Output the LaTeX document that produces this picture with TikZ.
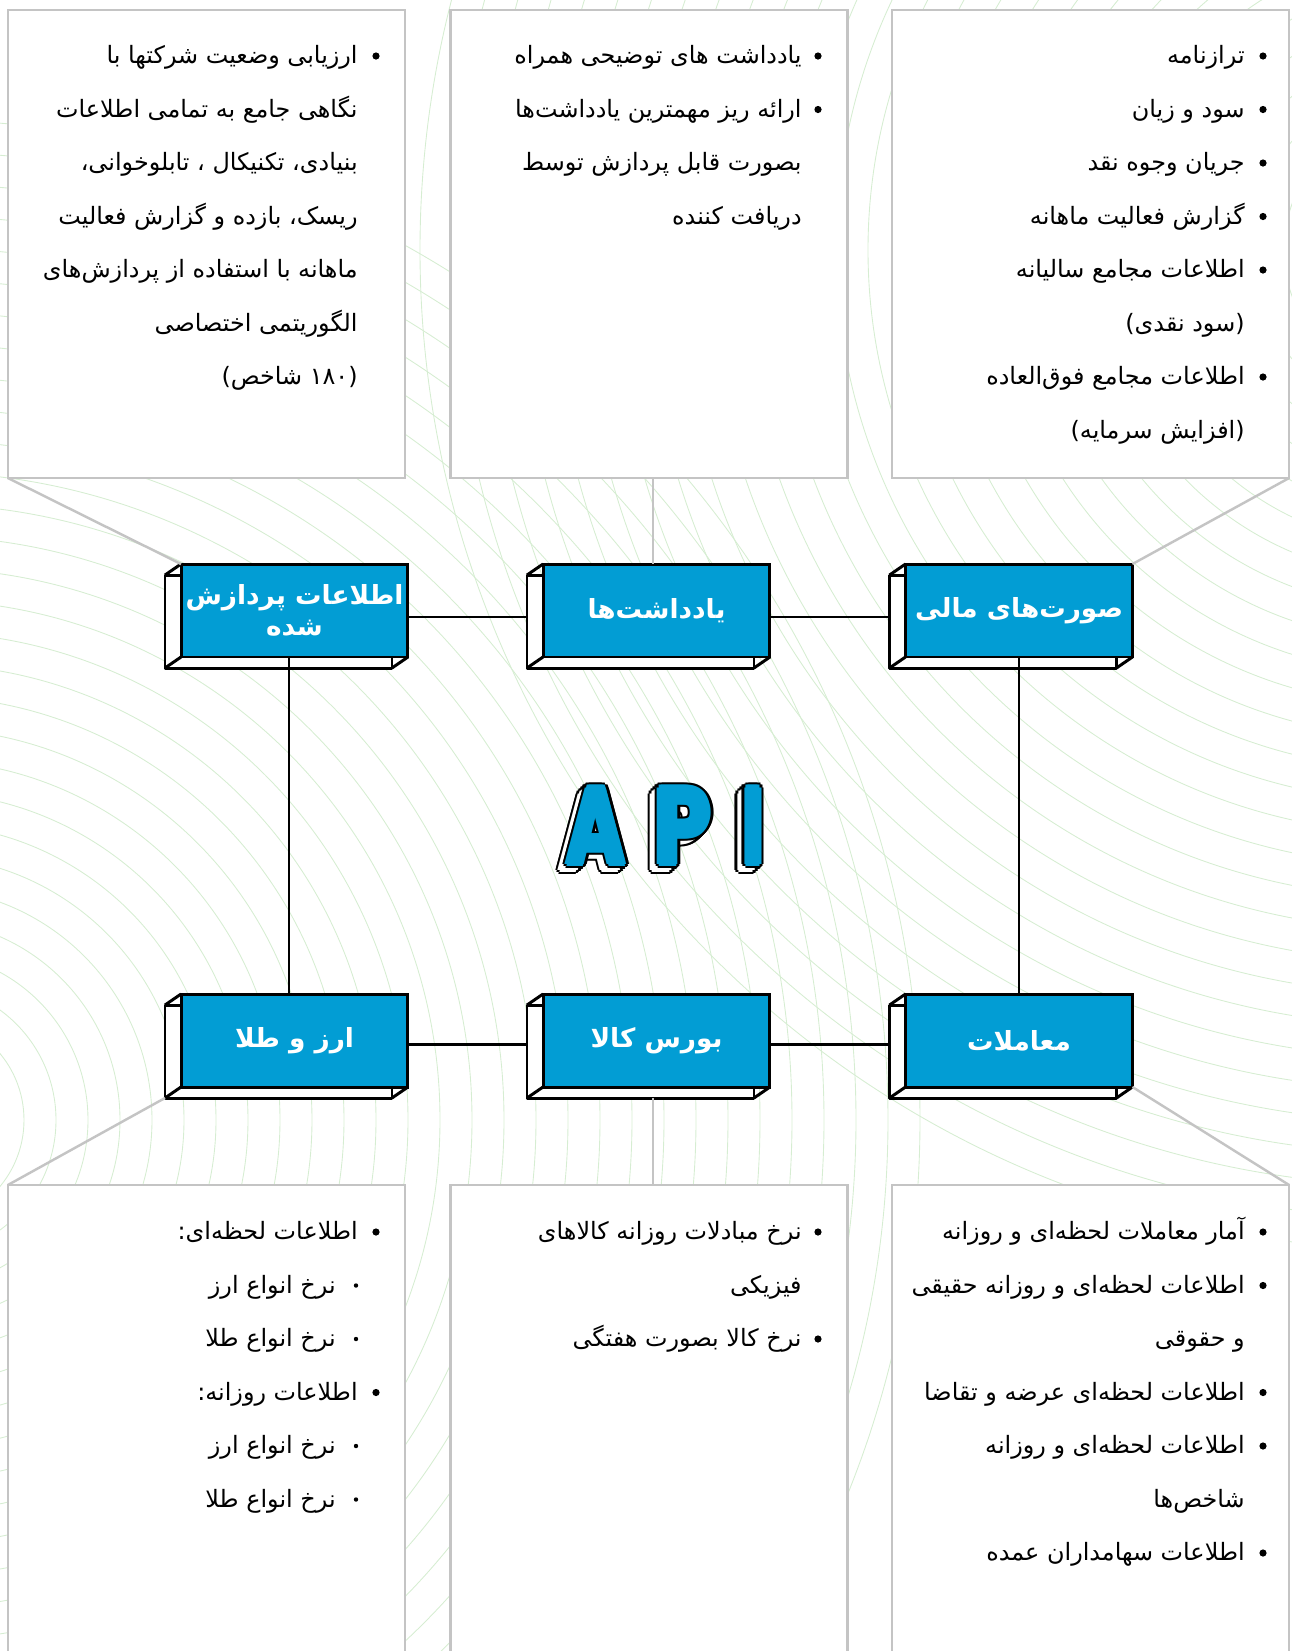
\documentclass[tikz,border=0pt]{standalone}
\usepackage{fontspec}
\newfontfamily\fa[Script=Arabic]{DejaVu Sans}
\newfontfamily\apifont{Poppins}
\TeXXeTstate=1
\definecolor{apiblue}{RGB}{2,157,212}
\definecolor{rimgray}{RGB}{196,196,196}
\definecolor{wavegreen}{RGB}{214,237,210}
\tikzset{
  wave/.style={wavegreen, line width=0.5pt},
  infobox/.style={draw=rimgray, line width=1.4pt, fill=white, inner sep=0pt, outer sep=0pt, minimum width=7.95cm},
  leader/.style={rimgray, line width=1.4pt},
  link/.style={black, line width=1.4pt},
  face/.style={draw=black, line width=1.7pt, fill=apiblue, text=white, inner sep=0pt, outer sep=0pt,
    minimum width=4.54cm, minimum height=1.86cm, align=center, font=\fa\bfseries\fontsize{15}{18}\selectfont},
  rim/.style={draw=black, line width=1.7pt, line join=round},
  item/.style={anchor=mid east, inner sep=0pt, font=\fa\fontsize{13.6}{16}\selectfont},
  apitxt/.style={inner sep=0pt, anchor=base, transform shape, font=\apifont\bfseries\fontsize{62}{62}\selectfont}
}
% 3D block: name, x, y, label
\newcommand\blockbox[4]{%
  \draw[rim, fill=white] ({#2-129.5},{#3-35.5}) rectangle ({#2+97.5},{#3+57.5});
  \node[face] (#1) at (#2,#3) {#4};
  \draw[rim] (#1.north west) -- ++(-16,11) (#1.south west) -- ++(-16,11) (#1.south east) -- ++(-16,11);
}
% list: name, text right x, bullet x, first y, entries
\newcommand\itemlist[5]{%
  \foreach \lvl/\txt [count=\i] in {#5} {
    \pgfmathsetmacro\ty{#4+53.5*(\i-1)}
    \ifnum\lvl=2
      \node[item] (#1\i) at ({#2-22},{\ty+4}) {\txt};
      \fill ({#3-20},\ty) circle[radius=2.2];
    \else
      \node[item] (#1\i) at (#2,{\ty+4}) {\txt};
      \ifnum\lvl=1 \fill (#3,\ty) circle[radius=3.6]; \fi
    \fi
  }
}
% extruded letter: name, x, y, xscale, letter
\newcommand\apiletter[5]{%
  \foreach \k in {7,5,3,1} \foreach \a in {0,36,...,324}
    \node[apitxt, xscale=#4, text=black] at ({#2-\k+5*cos(\a)},{#3+0.86*\k+5*sin(\a)}) {#5};
  \foreach \k in {7,5,3,1} \foreach \a in {0,60,...,300}
    \node[apitxt, xscale=#4, text=white] at ({#2-\k+2.5*cos(\a)},{#3+0.86*\k+2.5*sin(\a)}) {#5};
  \foreach \a in {0,36,...,324}
    \node[apitxt, xscale=#4, text=black] at ({#2+5*cos(\a)},{#3+5*sin(\a)}) {#5};
  \foreach \a in {0,60,...,300}
    \node[apitxt, xscale=#4, text=apiblue] at ({#2+2.5*cos(\a)},{#3+2.5*sin(\a)}) {#5};
  \node[apitxt, xscale=#4, text=apiblue] (#1) at (#2,#3) {#5};
}
\begin{document}
\begin{tikzpicture}[x=0.02cm, y=-0.02cm]
\useasboundingbox (0,0) rectangle (1292,1651);
\clip (0,0) rectangle (1292,1651);
% background
\foreach \r in {40,72,...,1000} \draw[wave] (-80,1120) circle[radius=\r];
\foreach \r in {40,72,...,1000} \draw[wave] (1420,250) circle[radius=\r];

% text panels
\node[infobox, minimum height=9.36cm] (procinfo) at (206.5,244) {};
\node[infobox, minimum height=9.36cm] (notesinfo) at (649,244) {};
\node[infobox, minimum height=9.36cm] (fininfo) at (1090.5,244) {};
\node[infobox, minimum height=10.3cm] (fxinfo) at (206.5,1442.5) {};
\node[infobox, minimum height=10.3cm] (comminfo) at (649,1442.5) {};
\node[infobox, minimum height=10.3cm] (tradesinfo) at (1090.5,1442.5) {};

% blocks
\blockbox{procd}{294.5}{610.5}{\beginR اطلاعات پردازش\endR\\\beginR شده\endR}
\blockbox{notes}{656.5}{610.5}{\beginR یادداشت^^^^200cها\endR}
\blockbox{fin}{1019}{610.5}{\beginR صورت^^^^200cهای مالی\endR}
\blockbox{fx}{294.5}{1040.5}{\beginR ارز و طلا\endR}
\blockbox{comm}{656.5}{1040.5}{\beginR بورس کالا\endR}
\blockbox{trades}{1019}{1040.5}{\beginR معاملات\endR}

% links
\draw[link] ([shift={(0,6.5)}]procd.east) -- ([shift={(-16,6.5)}]notes.west);
\draw[link] ([shift={(0,6.5)}]notes.east) -- ([shift={(-16,6.5)}]fin.west);
\draw[link] ([shift={(-5.5,0)}]procd.south) -- ([shift={(-5.5,0)}]fx.north);
\draw[link] (fin.south) -- (trades.north);
\draw[link] ([shift={(0,4)}]fx.east) -- ([shift={(-16,4)}]comm.west);
\draw[link] ([shift={(0,4)}]comm.east) -- ([shift={(-16,4)}]trades.west);

% leaders
\draw[leader] (procinfo.south west) -- (procd.north west);
\draw[leader] ([shift={(4,0)}]notesinfo.south) -- ([shift={(4,0)}]notesinfo.south |- notes.north);
\draw[leader] (fininfo.south east) -- (fin.north east);
\draw[leader] ([shift={(-16,11)}]fx.south west) -- (fxinfo.north west);
\draw[leader] ([shift={(4,0)}]comminfo.north) -- ++(0,-87);
\draw[leader] (trades.south east) -- (tradesinfo.north east);

% lists
\itemlist{procl}{358}{376}{56}{1/\beginR ارزیابی وضعیت شرکتها با\endR,
0/\beginR نگاهی جامع به تمامی اطلاعات\endR,
0/\beginR بنیادی، تکنیکال ، تابلوخوانی،\endR,
0/\beginR ریسک، بازده و گزارش فعالیت\endR,
0/\beginR ماهانه با استفاده از پردازش^^^^200cهای\endR,
0/\beginR الگوریتمی اختصاصی\endR,
0/\beginR (۱۸۰ شاخص)\endR}
\itemlist{notesl}{802}{818}{56}{1/\beginR یادداشت های توضیحی همراه\endR,
1/\beginR ارائه ریز مهمترین یادداشت^^^^200cها\endR,
0/\beginR بصورت قابل پردازش توسط\endR,
0/\beginR دریافت کننده\endR}
\itemlist{finl}{1245}{1263}{56}{1/\beginR ترازنامه\endR,
1/\beginR سود و زیان\endR,
1/\beginR جریان وجوه نقد\endR,
1/\beginR گزارش فعالیت ماهانه\endR,
1/\beginR اطلاعات مجامع سالیانه\endR,
0/\beginR (سود نقدی)\endR,
1/\beginR اطلاعات مجامع فوق^^^^200cالعاده\endR,
0/\beginR (افزایش سرمایه)\endR}
\itemlist{fxl}{358}{376}{1232}{1/\beginR اطلاعات لحظه^^^^200cای:\endR,
2/\beginR نرخ انواع ارز\endR,
2/\beginR نرخ انواع طلا\endR,
1/\beginR اطلاعات روزانه:\endR,
2/\beginR نرخ انواع ارز\endR,
2/\beginR نرخ انواع طلا\endR}
\itemlist{comml}{802}{818}{1232}{1/\beginR نرخ مبادلات روزانه کالاهای\endR,
0/\beginR فیزیکی\endR,
1/\beginR نرخ کالا بصورت هفتگی\endR}
\itemlist{tradesl}{1245}{1263}{1232}{1/\beginR آمار معاملات لحظه^^^^200cای و روزانه\endR,
1/\beginR اطلاعات لحظه^^^^200cای و روزانه حقیقی\endR,
0/\beginR و حقوقی\endR,
1/\beginR اطلاعات لحظه^^^^200cای عرضه و تقاضا\endR,
1/\beginR اطلاعات لحظه^^^^200cای و روزانه\endR,
0/\beginR شاخص^^^^200cها\endR,
1/\beginR اطلاعات سهامداران عمده\endR}

% API
\apiletter{apiA}{596}{864}{0.74}{A}
\apiletter{apiP}{683}{864}{0.84}{P}
\apiletter{apiI}{753}{864}{0.65}{I}
\end{tikzpicture}
\end{document}
